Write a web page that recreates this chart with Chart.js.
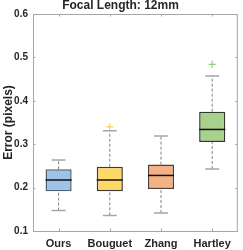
<!DOCTYPE html>
<html><head><meta charset="utf-8">
<script src="https://cdn.jsdelivr.net/npm/chart.js@4/dist/chart.umd.min.js"></script>
<style>html,body{margin:0;padding:0;background:#fff}canvas{display:block}</style>
</head><body>
<canvas id="c" width="243" height="250"></canvas>
<script>
const categories = ['Ours', 'Bouguet', 'Zhang', 'Hartley'];
const whiskerLow = [0.147, 0.136, 0.1415, 0.243];
const q1 = [0.1915, 0.1915, 0.197, 0.305];
const median = [0.2175, 0.2175, 0.228, 0.334];
const q3 = [0.242, 0.248, 0.253, 0.375];
const whiskerHigh = [0.2636, 0.331, 0.319, 0.457];
const outliers = [null, 0.340, null, 0.484];
const yTicks = [0.1, 0.2, 0.3, 0.4, 0.5, 0.6];

const fillColors = ['#9dc3e6', '#ffd966', '#f4b183', '#a9d18e'];
const edgeColors = ['#4f5f70', '#3a3a3a', '#4a4040', '#2e3a2a'];
const outlierColors = ['#9dc3e6', '#ffd24d', '#f4b183', '#92d06a'];
const axisColor = '#a6a6a6';
const textColor = '#262626';

const boxPlugin = {
  id: 'boxextras',
  beforeDatasetsDraw(chart) {
    const {ctx, scales: {x, y}} = chart;
    ctx.save();
    categories.forEach((c, i) => {
      const cx = x.getPixelForValue(i);
      ctx.strokeStyle = '#808080';
      ctx.lineWidth = 1;
      ctx.setLineDash([3, 2]);
      ctx.beginPath();
      ctx.moveTo(cx, y.getPixelForValue(whiskerLow[i]));
      ctx.lineTo(cx, y.getPixelForValue(q1[i]));
      ctx.moveTo(cx, y.getPixelForValue(q3[i]));
      ctx.lineTo(cx, y.getPixelForValue(whiskerHigh[i]));
      ctx.stroke();
      ctx.setLineDash([]);
      ctx.strokeStyle = '#a6a6a6';
      ctx.lineWidth = 1.5;
      const hw = 7;
      ctx.beginPath();
      [whiskerLow[i], whiskerHigh[i]].forEach(v => {
        const py = y.getPixelForValue(v);
        ctx.moveTo(cx - hw, py);
        ctx.lineTo(cx + hw, py);
      });
      ctx.stroke();
    });
    ctx.restore();
  },
  afterDatasetsDraw(chart) {
    const {ctx, scales: {x, y}, chartArea: a} = chart;
    const meta = chart.getDatasetMeta(0);
    ctx.save();
    categories.forEach((c, i) => {
      const bar = meta.data[i];
      const half = bar.width / 2;
      const py = y.getPixelForValue(median[i]);
      ctx.strokeStyle = '#111';
      ctx.lineWidth = 1.5;
      ctx.beginPath();
      ctx.moveTo(bar.x - half, py);
      ctx.lineTo(bar.x + half, py);
      ctx.stroke();
    });
    // frame and inner ticks
    ctx.strokeStyle = axisColor;
    ctx.lineWidth = 1;
    ctx.beginPath();
    ctx.moveTo(a.left, a.top + 0.5); ctx.lineTo(a.right, a.top + 0.5);
    ctx.moveTo(a.right - 0.5, a.top); ctx.lineTo(a.right - 0.5, a.bottom);
    const tl = 2.5;
    yTicks.forEach(v => {
      const py = Math.round(y.getPixelForValue(v)) + 0.5;
      ctx.moveTo(a.left, py); ctx.lineTo(a.left + tl, py);
      ctx.moveTo(a.right, py); ctx.lineTo(a.right - tl, py);
    });
    categories.forEach((c, i) => {
      const px = Math.round(x.getPixelForValue(i)) + 0.5;
      ctx.moveTo(px, a.bottom); ctx.lineTo(px, a.bottom - tl);
      ctx.moveTo(px, a.top); ctx.lineTo(px, a.top + tl);
    });
    ctx.stroke();
    ctx.restore();
  }
};

new Chart(document.getElementById('c'), {
  type: 'bar',
  data: {
    labels: categories,
    datasets: [{
      data: categories.map((c, i) => [q1[i], q3[i]]),
      backgroundColor: fillColors,
      borderColor: edgeColors,
      borderWidth: 1.5,
      borderSkipped: false,
      barPercentage: 0.51,
      categoryPercentage: 1.0,
      order: 2
    }, {
      type: 'line',
      data: outliers,
      showLine: false,
      pointStyle: 'cross',
      pointRadius: 3.5,
      pointBorderWidth: 1.2,
      pointBorderColor: outlierColors,
      pointBackgroundColor: outlierColors,
      order: 1
    }]
  },
  options: {
    responsive: false,
    animation: false,
    events: [],
    layout: {padding: {top: 0, right: 2, bottom: 0, left: 0}},
    plugins: {
      legend: {display: false},
      tooltip: {enabled: false},
      title: {
        display: true,
        text: 'Focal Length: 12mm',
        color: textColor,
        font: {family: 'Liberation Sans, Arial, sans-serif', size: 12, weight: 'bold', lineHeight: 1.0},
        padding: {top: 0, bottom: 2}
      }
    },
    scales: {
      x: {
        offset: true,
        grid: {display: false, drawTicks: false},
        border: {color: axisColor},
        ticks: {color: textColor, padding: 6, font: {family: 'Liberation Sans, Arial, sans-serif', size: 11, weight: 'bold'}},
        afterFit: s => { s.height = 19; }
      },
      y: {
        min: 0.1, max: 0.6,
        afterBuildTicks: s => { s.ticks = yTicks.map(v => ({value: v})); },
        grid: {display: false, drawTicks: false},
        border: {color: axisColor},
        ticks: {color: textColor, padding: 5, font: {family: 'Liberation Sans, Arial, sans-serif', size: 10, weight: 'bold'},
          callback: v => Number(v).toFixed(1)},
        title: {display: true, text: 'Error (pixels)', color: textColor, padding: {top: 1, bottom: 0},
          font: {family: 'Liberation Sans, Arial, sans-serif', size: 12, weight: 'bold'}},
        afterFit: s => { s.width = 33; }
      }
    }
  },
  plugins: [boxPlugin]
});
</script>
</body></html>
